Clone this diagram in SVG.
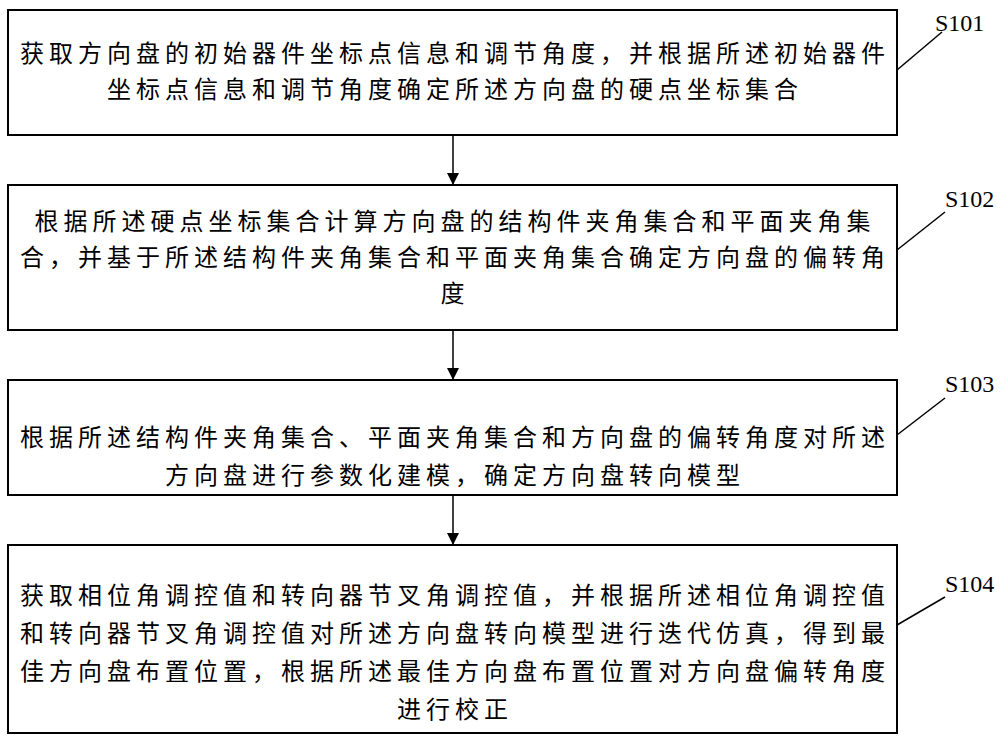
<svg xmlns="http://www.w3.org/2000/svg" width="1000" height="744" viewBox="0 0 1000 744">
<defs>
<style>
.b{fill:#fff;stroke:#000;stroke-width:2}
.t{font-family:"Noto Sans CJK SC","Noto Sans",sans-serif;font-size:24px;letter-spacing:5px;text-anchor:middle;fill:#000}
.l{font-family:"Liberation Serif",serif;font-size:24px;fill:#000}
.c{stroke:#000;stroke-width:1.5;fill:none}
</style>
<marker id="a" viewBox="0 0 10 10" refX="10" refY="5" markerWidth="8" markerHeight="8" orient="auto"><path d="M0,0L10,5L0,10z" fill="#000"/></marker>
</defs>
<rect width="1000" height="744" fill="#fff"/>
<g id="s101"><rect class="b" x="8" y="10" width="889" height="125"/>
<text class="t" x="455" y="62">获取方向盘的初始器件坐标点信息和调节角度，并根据所述初始器件</text>
<text class="t" x="455" y="98">坐标点信息和调节角度确定所述方向盘的硬点坐标集合</text>
<text class="l" x="935" y="31">S101</text></g>
<g id="s102"><rect class="b" x="8" y="185" width="889" height="145"/>
<text class="t" x="455" y="230">根据所述硬点坐标集合计算方向盘的结构件夹角集合和平面夹角集</text>
<text class="t" x="455" y="266">合，并基于所述结构件夹角集合和平面夹角集合确定方向盘的偏转角</text>
<text class="t" x="455" y="302">度</text>
<text class="l" x="945" y="207">S102</text></g>
<g id="s103"><rect class="b" x="8" y="380" width="889" height="115"/>
<text class="t" x="455" y="446">根据所述结构件夹角集合、平面夹角集合和方向盘的偏转角度对所述</text>
<text class="t" x="455" y="484">方向盘进行参数化建模，确定方向盘转向模型</text>
<text class="l" x="945" y="392">S103</text></g>
<g id="s104"><rect class="b" x="8" y="545" width="889" height="188"/>
<text class="t" x="455" y="604">获取相位角调控值和转向器节叉角调控值，并根据所述相位角调控值</text>
<text class="t" x="455" y="642">和转向器节叉角调控值对所述方向盘转向模型进行迭代仿真，得到最</text>
<text class="t" x="455" y="680">佳方向盘布置位置，根据所述最佳方向盘布置位置对方向盘偏转角度</text>
<text class="t" x="455" y="718">进行校正</text>
<text class="l" x="945" y="592">S104</text></g>
<g id="connectors">
<line class="c" x1="453" y1="135" x2="453" y2="185" marker-end="url(#a)"/>
<line class="c" x1="453" y1="330" x2="453" y2="380" marker-end="url(#a)"/>
<line class="c" x1="453" y1="495" x2="453" y2="545" marker-end="url(#a)"/>
<line class="c" x1="897" y1="70" x2="942" y2="32"/>
<line class="c" x1="897" y1="250" x2="945" y2="212"/>
<line class="c" x1="897" y1="435" x2="945" y2="398"/>
<line class="c" x1="897" y1="625" x2="945" y2="597"/>
</g>
</svg>
